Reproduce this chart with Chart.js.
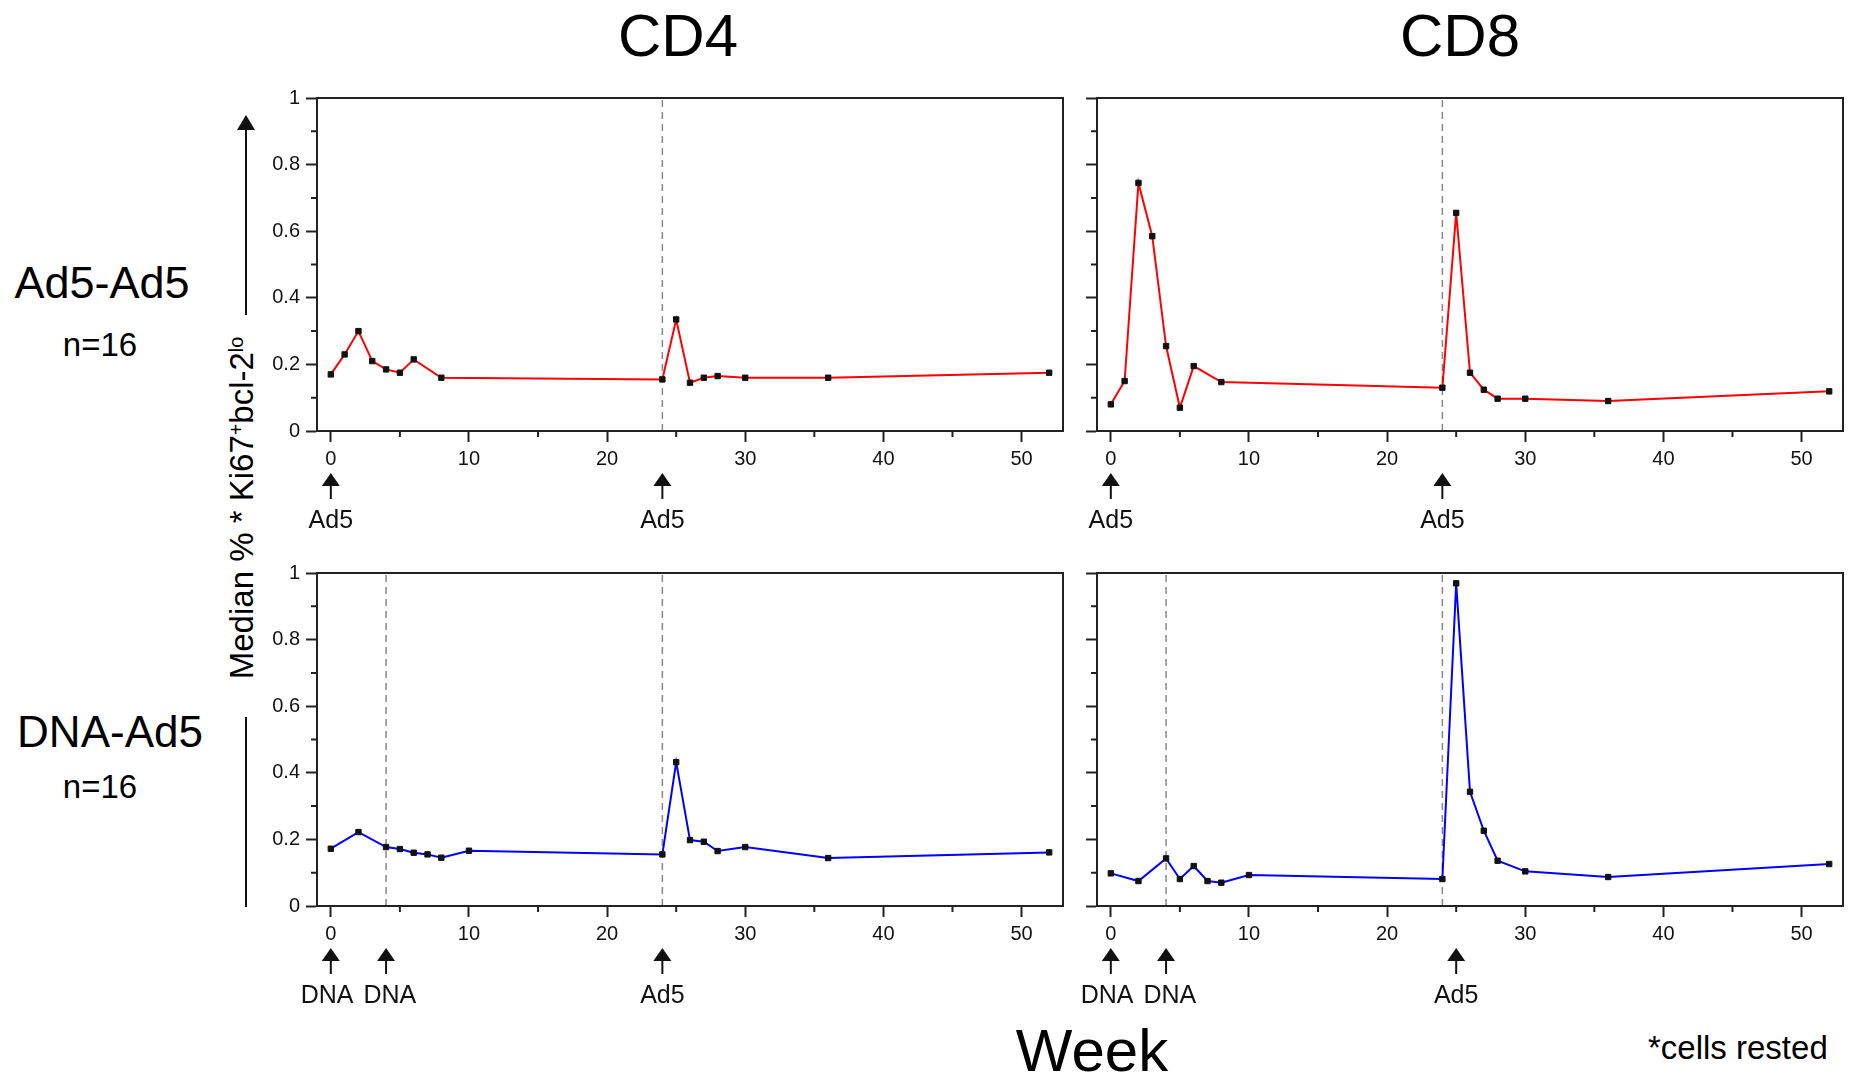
<!DOCTYPE html>
<html>
<head>
<meta charset="utf-8">
<script src="https://cdn.jsdelivr.net/npm/chart.js@4.4.1/dist/chart.umd.min.js"></script>
<style>
  body {
    margin: 0;
    width: 1858px;
    height: 1077px;
    position: relative;
    overflow: hidden;
    background: #fff;
    color: #000;
    font-family: "Liberation Sans", Arial, sans-serif;
  }
  canvas { position: absolute; }
  .txt {
    position: absolute;
    line-height: 1;
    white-space: nowrap;
    transform: translate(-50%, -50%);
  }
  .ytitle {
    position: absolute;
    line-height: 1;
    white-space: nowrap;
    font-size: 33px;
    transform: translate(-50%, -50%) rotate(-90deg);
  }
  .ytitle sup {
    font-size: 0.6em;
    vertical-align: baseline;
    position: relative;
    top: -0.5em;
  }
  .bar { position: absolute; background: #111; width: 2px; }
  .head {
    position: absolute;
    width: 0; height: 0;
    border-left: 9px solid transparent;
    border-right: 9px solid transparent;
    border-bottom: 15px solid #111;
  }
</style>
</head>
<body>

<div class="txt" style="left:678px; top:36px; font-size:60px;">CD4</div>
<div class="txt" style="left:1460px; top:36px; font-size:60px;">CD8</div>

<div class="txt" style="left:102px; top:282px; font-size:45px;">Ad5-Ad5</div>
<div class="txt" style="left:100px; top:344px; font-size:33px;">n=16</div>
<div class="txt" style="left:110px; top:732px; font-size:44px;">DNA-Ad5</div>
<div class="txt" style="left:100px; top:786px; font-size:33px;">n=16</div>

<div class="ytitle" style="left:241px; top:508px;">Median % * Ki67<sup>+</sup>bcl-2<sup>lo</sup></div>
<div class="head" style="left:237px; top:115px;"></div>
<div class="bar" style="left:245px; top:129px; height:186px;"></div>
<div class="bar" style="left:245px; top:717px; height:190px;"></div>

<div class="txt" style="left:1092px; top:1051px; font-size:60px;">Week</div>
<div class="txt" style="left:1648px; top:1047px; font-size:33px; transform:translate(0,-50%);">*cells rested</div>

<canvas id="cd4Top" width="820" height="470" style="left:257px; top:80px;"></canvas>
<canvas id="cd8Top" width="781" height="470" style="left:1077px; top:80px;"></canvas>
<canvas id="cd4Bottom" width="820" height="470" style="left:257px; top:555px;"></canvas>
<canvas id="cd8Bottom" width="781" height="470" style="left:1077px; top:555px;"></canvas>

<script>
// sampling weeks for each regimen
const weeksAd5 = [0, 1, 2, 3, 4, 5, 6, 8, 24, 25, 26, 27, 28, 30, 36, 52];
const weeksDna = [0, 2, 4, 5, 6, 7, 8, 10, 24, 25, 26, 27, 28, 30, 36, 52];

// median % Ki67+ bcl-2lo
const cd4Ad5 = [0.17, 0.23, 0.30, 0.21, 0.185, 0.175, 0.215, 0.16, 0.155, 0.335, 0.145, 0.16, 0.165, 0.16, 0.16, 0.175];
const cd8Ad5 = [0.08, 0.15, 0.745, 0.585, 0.255, 0.07, 0.195, 0.147, 0.13, 0.655, 0.175, 0.124, 0.097, 0.097, 0.09, 0.119];
const cd4Dna = [0.172, 0.222, 0.177, 0.171, 0.16, 0.155, 0.145, 0.166, 0.155, 0.432, 0.198, 0.193, 0.165, 0.177, 0.144, 0.161];
const cd8Dna = [0.098, 0.075, 0.143, 0.081, 0.12, 0.075, 0.07, 0.093, 0.081, 0.969, 0.343, 0.226, 0.136, 0.104, 0.087, 0.126];

// dashed guide lines (vaccinations after baseline)
const guidesAd5 = [24];
const guidesDna = [4, 24];

// vaccination arrows under the x axis
const dosesAd5 = [0, 24];
const doseLabelsAd5 = ["Ad5", "Ad5"];
const dosesDnaCd4 = [0, 4, 24];
const dosesDnaCd8 = [0, 4, 25];
const doseLabelsDna = ["DNA", "DNA", "Ad5"];

const FONT = '"Liberation Sans", Arial, sans-serif';
const AXIS = "#222";

Chart.defaults.font.family = FONT;
Chart.defaults.color = "#111";

const isMajorX = v => Math.round(v) % 10 === 0;
const isMajorY = v => Math.round(v * 10) % 2 === 0;

// box around the plot area
const frame = {
  id: "frame",
  afterDraw(chart) {
    const { ctx, chartArea: a } = chart;
    ctx.save();
    ctx.strokeStyle = AXIS;
    ctx.lineWidth = 2;
    ctx.strokeRect(a.left, a.top, a.right - a.left, a.bottom - a.top);
    ctx.restore();
  }
};

// short ticks between the labelled ones
const minorTicks = {
  id: "minorTicks",
  afterDraw(chart) {
    const { ctx, scales: { x, y } } = chart;
    ctx.save();
    ctx.strokeStyle = AXIS;
    ctx.lineWidth = 2;
    ctx.beginPath();
    x.ticks.forEach((t, i) => {
      if (isMajorX(t.value)) return;
      const px = x.getPixelForTick(i);
      ctx.moveTo(px, x.top);
      ctx.lineTo(px, x.top + 6);
    });
    y.ticks.forEach((t, i) => {
      if (isMajorY(t.value)) return;
      const py = y.getPixelForTick(i);
      ctx.moveTo(y.right - 6, py);
      ctx.lineTo(y.right, py);
    });
    ctx.stroke();
    ctx.restore();
  }
};

// arrows + labels marking each dose
const doseArrows = {
  id: "doseArrows",
  afterDraw(chart, args, opts) {
    const { ctx, scales: { x } } = chart;
    const base = chart.chartArea.bottom;
    ctx.save();
    ctx.fillStyle = "#111";
    ctx.strokeStyle = "#111";
    ctx.lineWidth = 2;
    ctx.font = "25px " + FONT;
    ctx.textAlign = "center";
    ctx.textBaseline = "alphabetic";

    // label centres start under their arrows; crowded neighbours get pushed apart evenly
    const items = opts.weeks.map((w, i) => {
      const px = x.getPixelForValue(w);
      return { px, cx: px, half: ctx.measureText(opts.labels[i]).width / 2, label: opts.labels[i] };
    });
    for (let i = 1; i < items.length; i++) {
      const a = items[i - 1], b = items[i];
      const overlap = (a.cx + a.half + 10) - (b.cx - b.half);
      if (overlap > 0) {
        a.cx -= overlap / 2;
        b.cx += overlap / 2;
      }
    }

    items.forEach(it => {
      ctx.beginPath();
      ctx.moveTo(it.px, base + 42);
      ctx.lineTo(it.px - 9, base + 55);
      ctx.lineTo(it.px + 9, base + 55);
      ctx.closePath();
      ctx.fill();
      ctx.beginPath();
      ctx.moveTo(it.px, base + 54);
      ctx.lineTo(it.px, base + 68);
      ctx.stroke();
      ctx.fillText(it.label, it.cx, base + 97);
    });
    ctx.restore();
  }
};

function makePanel(id, weeks, values, color, guides, doses, doseLabels, yAxisWidth, rightPad, showYLabels) {
  const datasets = [{
    data: weeks.map((w, i) => ({ x: w, y: values[i] })),
    showLine: true,
    borderColor: color,
    borderWidth: 2,
    pointStyle: "rect",
    pointRadius: 3.8,
    pointBackgroundColor: "#111",
    pointBorderColor: "#111",
    pointBorderWidth: 1
  }];
  guides.forEach(w => {
    datasets.push({
      data: [{ x: w, y: 0 }, { x: w, y: 1 }],
      showLine: true,
      borderColor: "#888",
      borderWidth: 1.5,
      borderDash: [7, 5],
      pointRadius: 0
    });
  });

  return new Chart(document.getElementById(id), {
    type: "scatter",
    data: { datasets },
    options: {
      responsive: false,
      animation: false,
      layout: { padding: { top: 15, right: rightPad, left: 0, bottom: 0 } },
      plugins: {
        legend: { display: false },
        tooltip: { enabled: false },
        doseArrows: { weeks: doses, labels: doseLabels }
      },
      scales: {
        x: {
          type: "linear",
          min: -1,
          max: 53,
          afterFit: s => { s.height = 119; },
          border: { color: AXIS, width: 2 },
          grid: {
            drawOnChartArea: false,
            tickLength: 11,
            tickWidth: 2,
            tickColor: c => isMajorX(c.tick.value) ? AXIS : "rgba(0,0,0,0)"
          },
          ticks: {
            stepSize: 5,
            includeBounds: false,
            autoSkip: false,
            maxRotation: 0,
            padding: 5,
            font: { size: 20 },
            color: "#111",
            callback: v => isMajorX(v) ? String(v) : ""
          }
        },
        y: {
          min: 0,
          max: 1,
          afterFit: s => { s.width = yAxisWidth; },
          border: { color: AXIS, width: 2 },
          grid: {
            drawOnChartArea: false,
            tickLength: 11,
            tickWidth: 2,
            tickColor: c => isMajorY(c.tick.value) ? AXIS : "rgba(0,0,0,0)"
          },
          ticks: {
            stepSize: 0.1,
            autoSkip: false,
            padding: 6,
            font: { size: 20 },
            color: "#111",
            callback: v => (showYLabels && isMajorY(v)) ? String(+v.toFixed(1)) : ""
          }
        }
      }
    },
    plugins: [frame, minorTicks, doseArrows]
  });
}

makePanel("cd4Top", weeksAd5, cd4Ad5, "#ff0000", guidesAd5, dosesAd5, doseLabelsAd5, 60, 14, true);
makePanel("cd8Top", weeksAd5, cd8Ad5, "#ff0000", guidesAd5, dosesAd5, doseLabelsAd5, 20, 15, false);
makePanel("cd4Bottom", weeksDna, cd4Dna, "#0000ff", guidesDna, dosesDnaCd4, doseLabelsDna, 60, 14, true);
makePanel("cd8Bottom", weeksDna, cd8Dna, "#0000ff", guidesDna, dosesDnaCd8, doseLabelsDna, 20, 15, false);
</script>
</body>
</html>
